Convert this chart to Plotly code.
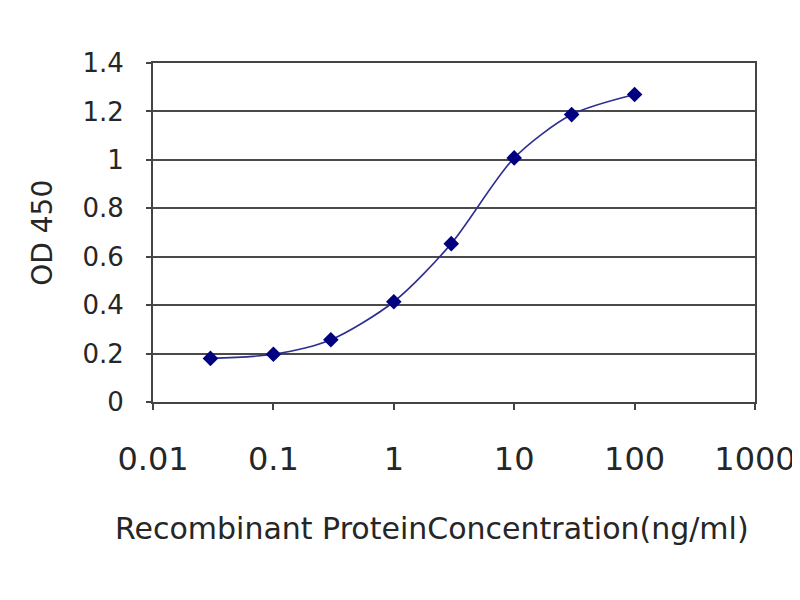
import plotly.graph_objects as go

concentration = [0.03, 0.1, 0.3, 1, 3, 10, 30, 100]
od450 = [0.18, 0.197, 0.257, 0.414, 0.654, 1.008, 1.187, 1.27]

x_tickvals = [0.01, 0.1, 1, 10, 100, 1000]
x_ticktext = ["0.01", "0.1", "1", "10", "100", "1000"]
y_tickvals = [0, 0.2, 0.4, 0.6, 0.8, 1.0, 1.2, 1.4]
y_ticktext = ["0", "0.2", "0.4", "0.6", "0.8", "1", "1.2", "1.4"]

x_title = "Recombinant ProteinConcentration(ng/ml)"
y_title = "OD 450"

FONT = "DejaVu Sans"
TXT = "#262626"

fig = go.Figure()
fig.add_trace(go.Scatter(
    x=concentration, y=od450, mode="lines+markers",
    line=dict(color="#2e2e90", width=1.6, shape="spline", smoothing=0.8),
    marker=dict(symbol="diamond", size=12, color="#000080"),
    showlegend=False,
))

fig.update_layout(
    width=800, height=600,
    margin=dict(l=145, r=53, t=55, b=206),
    paper_bgcolor="white", plot_bgcolor="white",
    font=dict(family=FONT, color=TXT),
    xaxis=dict(
        type="log", range=[-2, 3], automargin=False,
        tickvals=x_tickvals, ticktext=x_ticktext,
        tickfont=dict(family=FONT, size=32, color=TXT),
        ticks="outside", ticklen=6, tickwidth=2, tickcolor="#444444",
        ticklabelstandoff=22,
        showgrid=False, zeroline=False,
        showline=True, linecolor="#444444", linewidth=2, mirror=True,
    ),
    yaxis=dict(
        range=[0, 1.4], automargin=False,
        tickvals=y_tickvals, ticktext=y_ticktext,
        tickfont=dict(family=FONT, size=26, color=TXT),
        ticks="outside", ticklen=5, tickwidth=2, tickcolor="#444444",
        ticklabelstandoff=17,
        showgrid=True, gridcolor="#4a4a4a", gridwidth=2,
        zeroline=False,
        showline=True, linecolor="#444444", linewidth=2, mirror=True,
    ),
    annotations=[
        dict(text=x_title, xref="paper", yref="paper", x=0.4635, y=-0.372,
             xanchor="center", yanchor="middle", showarrow=False,
             font=dict(family=FONT, size=30, color=TXT)),
        dict(text=y_title, xref="paper", yref="paper", x=-0.184, y=0.5,
             xanchor="center", yanchor="middle", showarrow=False, textangle=-90,
             font=dict(family=FONT, size=28, color=TXT)),
    ],
)

fig.write_html("out.html")
